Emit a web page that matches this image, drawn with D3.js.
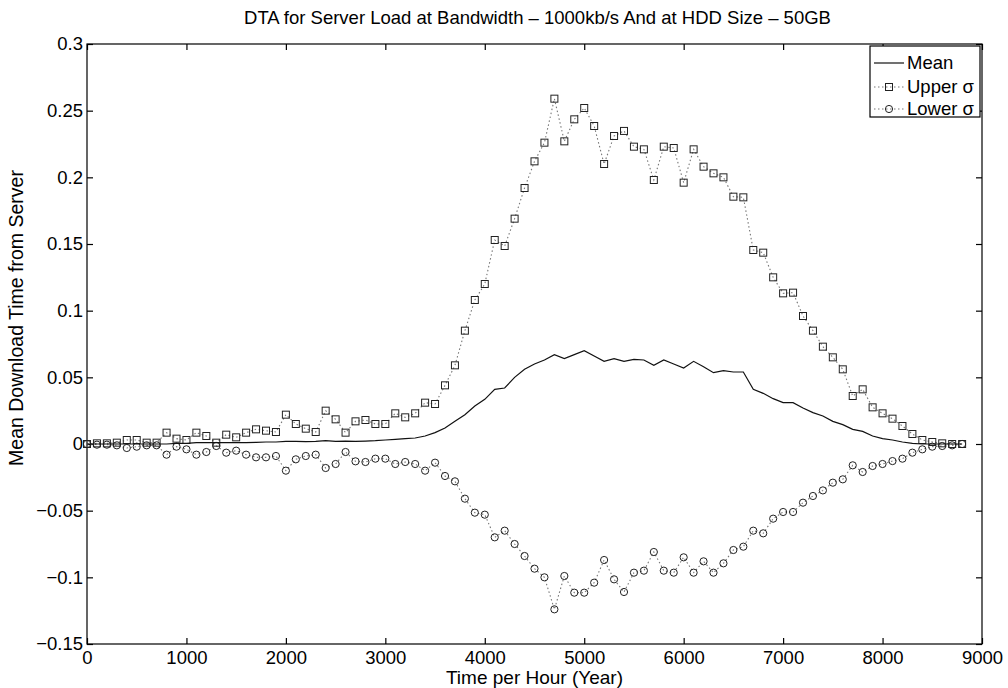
<!DOCTYPE html>
<html>
<head>
<meta charset="utf-8">
<script src="https://cdn.jsdelivr.net/npm/d3@7"></script>
<style>
  html, body { margin: 0; padding: 0; background: #fff; }
  svg { display: block; font-family: "Liberation Sans", Arial, Helvetica, sans-serif; }
</style>
</head>
<body>
<svg id="chart" width="1008" height="688"></svg>
<script>
// ---- data ----
const hours = d3.range(0, 8801, 100);
const meanValues = [
  0, 0, 0, 0, 0, 0, 0, 0, 0, 0.0005,
  0.0005, 0.001, 0.001, 0.001, 0.001, 0.001, 0.001, 0.0012, 0.0015, 0.0015,
  0.002, 0.002, 0.0018, 0.002, 0.0025, 0.002, 0.0022, 0.002, 0.0022, 0.0025,
  0.003, 0.0035, 0.004, 0.0045, 0.006, 0.0085, 0.012, 0.017, 0.022, 0.0285,
  0.0335, 0.041, 0.042, 0.05, 0.056, 0.06, 0.063, 0.067, 0.064, 0.067,
  0.070, 0.066, 0.062, 0.064, 0.062, 0.0635, 0.063, 0.059, 0.063, 0.06,
  0.057, 0.062, 0.058, 0.0535, 0.055, 0.054, 0.054, 0.041, 0.038, 0.034,
  0.031, 0.031, 0.027, 0.0235, 0.021, 0.017, 0.0145, 0.011, 0.0095, 0.006,
  0.004, 0.003, 0.0015, 0.0005, 0, 0, 0, 0, 0
];
const upperValues = [
  0, 0.0005, 0.0005, 0.001, 0.003, 0.003, 0.001, 0.001, 0.0085, 0.004,
  0.003, 0.0085, 0.006, 0.001, 0.007, 0.005, 0.0085, 0.011, 0.010, 0.009,
  0.022, 0.015, 0.0115, 0.009, 0.025, 0.0185, 0.0085, 0.017, 0.018, 0.015,
  0.015, 0.023, 0.020, 0.023, 0.031, 0.030, 0.044, 0.059, 0.085, 0.108,
  0.120, 0.153, 0.1485, 0.169, 0.192, 0.212, 0.226, 0.259, 0.227, 0.2435,
  0.252, 0.2385, 0.21, 0.231, 0.2348, 0.223, 0.221, 0.198, 0.223, 0.222,
  0.196, 0.221, 0.208, 0.203, 0.200, 0.1855, 0.185, 0.1455, 0.1435, 0.125,
  0.113, 0.1135, 0.096, 0.085, 0.073, 0.065, 0.056, 0.036, 0.041, 0.0275,
  0.023, 0.019, 0.0135, 0.0075, 0.003, 0.0015, 0.0005, 0, 0
];
const lowerValues = [
  0, -0.0005, -0.0005, -0.001, -0.003, -0.002, -0.001, -0.001, -0.008, -0.002,
  -0.004, -0.008, -0.006, -0.0015, -0.0065, -0.005, -0.008, -0.010, -0.010, -0.009,
  -0.020, -0.0115, -0.009, -0.008, -0.018, -0.015, -0.006, -0.013, -0.0135, -0.011,
  -0.011, -0.015, -0.0135, -0.015, -0.020, -0.014, -0.024, -0.028, -0.041, -0.0515,
  -0.053, -0.070, -0.065, -0.075, -0.084, -0.0935, -0.100, -0.124, -0.099, -0.1115,
  -0.1115, -0.104, -0.087, -0.1015, -0.111, -0.0965, -0.095, -0.081, -0.095, -0.0965,
  -0.085, -0.0965, -0.088, -0.0965, -0.0895, -0.0795, -0.077, -0.065, -0.067, -0.056,
  -0.051, -0.051, -0.044, -0.039, -0.0348, -0.029, -0.0265, -0.016, -0.021, -0.0165,
  -0.015, -0.0128, -0.011, -0.0065, -0.004, -0.002, -0.0015, -0.001, 0
];
const xTicks = [0, 1000, 2000, 3000, 4000, 5000, 6000, 7000, 8000, 9000];
const yTicks = [-0.15, -0.1, -0.05, 0, 0.05, 0.1, 0.15, 0.2, 0.25, 0.3];
const yTickLabels = ["\u22120.15", "\u22120.1", "\u22120.05", "0", "0.05", "0.1", "0.15", "0.2", "0.25", "0.3"];
const legendLabels = ["Mean", "Upper \u03C3", "Lower \u03C3"];
const titleText = "DTA for Server Load at Bandwidth \u2013 1000kb/s And at HDD Size \u2013 50GB";
const xLabel = "Time per Hour (Year)";
const yLabel = "Mean Download Time from Server";

// ---- layout ----
const L = 87, R = 982, T = 44, B = 644;
const svg = d3.select("#chart");
const x = d3.scaleLinear().domain([0, 9000]).range([L, R]);
const y = d3.scaleLinear().domain([-0.15, 0.3]).range([B, T]);

// frame
svg.append("rect").attr("x", L).attr("y", T).attr("width", R - L).attr("height", B - T)
  .attr("fill", "#fff").attr("stroke", "#000").attr("stroke-width", 1.2);

const fontSize = 18.5;
function styleAxis(g) {
  g.select(".domain").remove();
  g.selectAll("line").attr("stroke", "#000").attr("stroke-width", 1.2);
  g.selectAll("text").attr("fill", "#000").attr("font-size", fontSize)
    .attr("font-family", "'Liberation Sans', Arial, sans-serif");
}

svg.append("g").attr("transform", `translate(0,${B})`)
  .call(d3.axisBottom(x).tickValues(xTicks).tickFormat(d3.format("d")).tickSize(-6).tickPadding(7))
  .call(styleAxis);
svg.append("g").attr("transform", `translate(0,${T})`)
  .call(d3.axisTop(x).tickValues(xTicks).tickFormat("").tickSize(-6))
  .call(styleAxis);
svg.append("g").attr("transform", `translate(${L},0)`)
  .call(d3.axisLeft(y).tickValues(yTicks).tickFormat((d, i) => yTickLabels[i]).tickSize(-6).tickPadding(4))
  .call(styleAxis);
svg.append("g").attr("transform", `translate(${R},0)`)
  .call(d3.axisRight(y).tickValues(yTicks).tickFormat("").tickSize(-6))
  .call(styleAxis);

// series
const line = d3.line().x((d, i) => x(hours[i])).y(d => y(d));
const plot = svg.append("g");

plot.append("path").datum(upperValues).attr("d", line)
  .attr("fill", "none").attr("stroke", "#777").attr("stroke-width", 1.1).attr("stroke-dasharray", "1.5,2.5");
plot.append("path").datum(lowerValues).attr("d", line)
  .attr("fill", "none").attr("stroke", "#777").attr("stroke-width", 1.1).attr("stroke-dasharray", "1.5,2.5");

const ms = 7;
plot.selectAll("rect.up").data(upperValues).join("rect").attr("class", "up")
  .attr("x", (d, i) => x(hours[i]) - ms / 2).attr("y", d => y(d) - ms / 2)
  .attr("width", ms).attr("height", ms)
  .attr("fill", "none").attr("stroke", "#222").attr("stroke-width", 1);
plot.selectAll("circle.lo").data(lowerValues).join("circle").attr("class", "lo")
  .attr("cx", (d, i) => x(hours[i])).attr("cy", d => y(d)).attr("r", 3.6)
  .attr("fill", "none").attr("stroke", "#222").attr("stroke-width", 1);

plot.append("path").datum(meanValues).attr("d", line)
  .attr("fill", "none").attr("stroke", "#111").attr("stroke-width", 1.2);

// legend
const lg = svg.append("g");
lg.append("rect").attr("x", 870).attr("y", 46).attr("width", 110).attr("height", 71)
  .attr("fill", "#fff").attr("stroke", "#000").attr("stroke-width", 1.2);
const rowsY = [63, 87, 109];
legendLabels.forEach((lab, i) => {
  const yy = rowsY[i];
  lg.append("line").attr("x1", 874).attr("x2", 904).attr("y1", yy).attr("y2", yy)
    .attr("stroke", i === 0 ? "#111" : "#777").attr("stroke-width", i === 0 ? 1.2 : 1.1)
    .attr("stroke-dasharray", i === 0 ? null : "1.5,2.5");
  if (i === 1) {
    lg.append("rect").attr("x", 889 - ms / 2).attr("y", yy - ms / 2).attr("width", ms).attr("height", ms)
      .attr("fill", "none").attr("stroke", "#222");
  } else if (i === 2) {
    lg.append("circle").attr("cx", 889).attr("cy", yy).attr("r", 3.6).attr("fill", "none").attr("stroke", "#222");
  }
  lg.append("text").attr("x", 907).attr("y", yy).attr("dy", "0.35em")
    .attr("font-size", 18.5).attr("fill", "#000").text(lab);
});

// title and labels
svg.append("text").attr("x", (L + R) / 2 + 3).attr("y", 24).attr("text-anchor", "middle")
  .attr("font-size", 18.5).attr("fill", "#000").text(titleText);
svg.append("text").attr("x", (L + R) / 2).attr("y", 684).attr("text-anchor", "middle")
  .attr("font-size", 19).attr("fill", "#000").text(xLabel);
svg.append("text").attr("transform", "translate(23,318) rotate(-90)").attr("text-anchor", "middle")
  .attr("font-size", 19.5).attr("fill", "#000").text(yLabel);
</script>
</body>
</html>
